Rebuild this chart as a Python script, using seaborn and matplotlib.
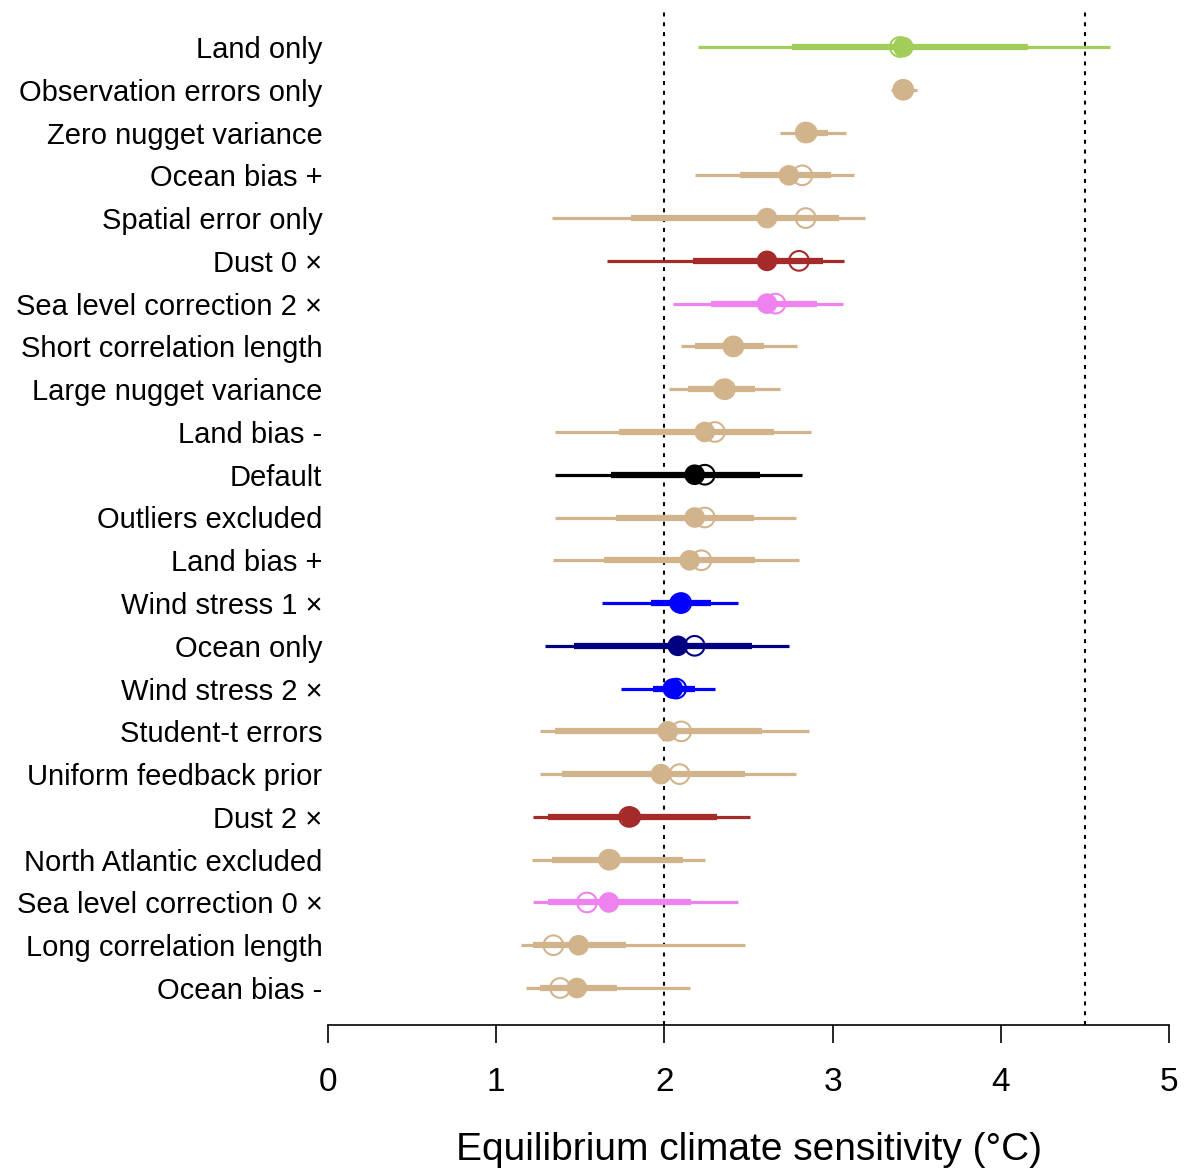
import numpy as np
import pandas as pd
import matplotlib
matplotlib.use("Agg")
import matplotlib.pyplot as plt
from matplotlib import font_manager
import seaborn as sns

labels = ["Land only", "Observation errors only", "Zero nugget variance", "Ocean bias +",
          "Spatial error only", "Dust 0 \u00d7", "Sea level correction 2 \u00d7",
          "Short correlation length", "Large nugget variance", "Land bias -", "Default",
          "Outliers excluded", "Land bias +", "Wind stress 1 \u00d7", "Ocean only",
          "Wind stress 2 \u00d7", "Student-t errors", "Uniform feedback prior", "Dust 2 \u00d7",
          "North Atlantic excluded", "Sea level correction 0 \u00d7", "Long correlation length",
          "Ocean bias -"]
thin_lo = [2.20, 3.35, 2.69, 2.18, 1.33, 1.66, 2.05, 2.10, 2.03, 1.35, 1.35, 1.35, 1.34,
           1.63, 1.29, 1.74, 1.26, 1.26, 1.22, 1.21, 1.22, 1.15, 1.18]
thick_lo = [2.76, 3.38, 2.79, 2.45, 1.80, 2.17, 2.28, 2.18, 2.14, 1.73, 1.68, 1.71, 1.64,
            1.92, 1.46, 1.93, 1.35, 1.39, 1.31, 1.33, 1.31, 1.22, 1.26]
median = [3.42, 3.42, 2.85, 2.74, 2.61, 2.61, 2.61, 2.41, 2.35, 2.24, 2.18, 2.18, 2.15,
          2.09, 2.08, 2.05, 2.02, 1.98, 1.80, 1.68, 1.67, 1.49, 1.48]
mode = [3.40, 3.42, 2.84, 2.82, 2.84, 2.80, 2.66, 2.41, 2.36, 2.30, 2.24, 2.24, 2.22,
        2.10, 2.18, 2.07, 2.10, 2.09, 1.79, 1.67, 1.54, 1.34, 1.38]
thick_hi = [4.16, 3.46, 2.97, 2.99, 3.04, 2.94, 2.91, 2.59, 2.54, 2.65, 2.57, 2.53, 2.54,
            2.28, 2.52, 2.18, 2.58, 2.48, 2.31, 2.11, 2.16, 1.77, 1.72]
thin_hi = [4.65, 3.50, 3.08, 3.13, 3.19, 3.07, 3.06, 2.79, 2.69, 2.87, 2.82, 2.78, 2.80,
           2.44, 2.74, 2.30, 2.86, 2.78, 2.51, 2.24, 2.44, 2.48, 2.15]
TAN, GREEN, BROWN, VIOLET, BLUE, NAVY = "#D2B48C", "#A2CD5A", "#A52A2A", "#EE82EE", "#0000FF", "#000080"
colors = [GREEN, TAN, TAN, TAN, TAN, BROWN, VIOLET, TAN, TAN, TAN, "#000000", TAN, TAN,
          BLUE, NAVY, BLUE, TAN, TAN, BROWN, TAN, VIOLET, TAN, TAN]
ref_lines = [2.0, 4.5]
xticks = [0, 1, 2, 3, 4, 5]

df = pd.DataFrame({"label": labels, "row": np.arange(len(labels)),
                   "thin_lo": thin_lo, "thin_hi": thin_hi, "thick_lo": thick_lo,
                   "thick_hi": thick_hi, "median": median, "mode": mode, "color": colors})

sns.set_style("white")
plt.rcParams["font.family"] = ["Liberation Sans", "DejaVu Sans"]
for k in ["text.color", "axes.labelcolor", "xtick.color", "ytick.color"]:
    plt.rcParams[k] = "black"

names = {f.name for f in font_manager.fontManager.ttflist}
narrow_ok = "Liberation Sans Narrow" in names
narrow = ["Liberation Sans Narrow", "DejaVu Sans"] if narrow_ok else ["Liberation Sans", "DejaVu Sans"]

fig = plt.figure(figsize=(11.84, 11.68), dpi=100)
ax = fig.add_axes([328 / 1184, (1168 - 1025) / 1168, (1169 - 328) / 1184, (1025 - 10) / 1168])

for xv in ref_lines:
    ax.axvline(xv, color="black", linestyle=(0, (1.9, 2.8)), linewidth=1.5, zorder=1)

ax.hlines(df["row"], df["thin_lo"], df["thin_hi"], colors=df["color"], linewidth=2.3, zorder=2)
ax.hlines(df["row"], df["thick_lo"], df["thick_hi"], colors=df["color"], linewidth=4.5, zorder=3)

pal = dict(zip(df["label"], df["color"]))
sns.scatterplot(data=df, x="median", y="row", hue="label", palette=pal, legend=False,
                s=220, edgecolor="none", ax=ax, zorder=4)
for _, r in df.iterrows():
    ax.scatter(r["mode"], r["row"], s=200, facecolors="none", edgecolors=r["color"],
               linewidths=1.5, zorder=5)

n = len(labels)
ax.set_xlim(0, 5)
ax.set_ylim(n - 1 + 0.865, -0.865)
ax.set_yticks(df["row"])
ax.set_yticklabels(df["label"], fontsize=21)
ax.tick_params(axis="y", left=False, length=0, pad=4)
ax.set_xticks(xticks)
ax.set_xticklabels([str(t) for t in xticks], fontsize=30 if narrow_ok else 24, family=narrow)
ax.tick_params(axis="x", bottom=True, direction="out", length=13, width=1.2, pad=17, color="black")
ax.set_xlabel("Equilibrium climate sensitivity (\u00b0C)", fontsize=34 if narrow_ok else 28,
              family=narrow, labelpad=25)
ax.set_ylabel("")
for s in ["top", "right", "left"]:
    ax.spines[s].set_visible(False)
ax.spines["bottom"].set_color("black")
ax.spines["bottom"].set_linewidth(1.2)
ax.grid(False)

fig.savefig("out.png", dpi=100)
